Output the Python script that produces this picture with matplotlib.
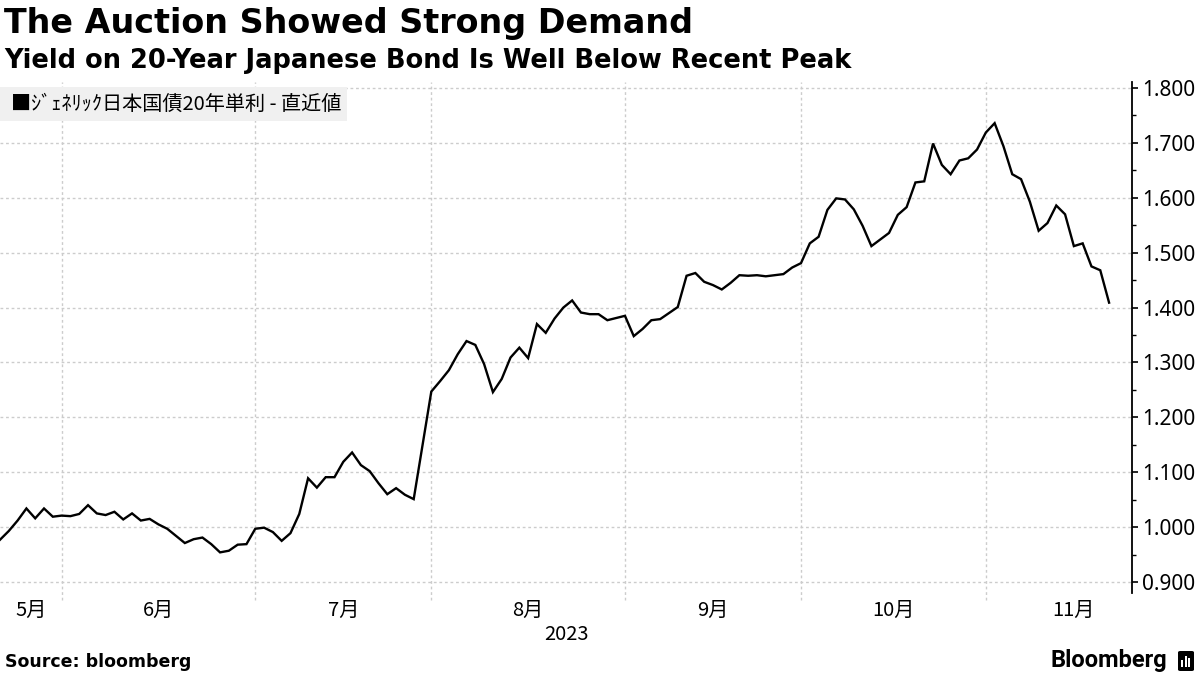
import matplotlib
matplotlib.use("Agg")
import matplotlib.pyplot as plt
from matplotlib.patches import Rectangle, FancyBboxPatch
from matplotlib.ticker import MultipleLocator, FuncFormatter

# ---------------------------------------------------------------------
# Data (generic 20-year JGB yield, one value per Japanese trading day)
# ---------------------------------------------------------------------

YIELDS = [
    0.977, 0.993, 1.012, 1.034, 1.016, 1.034, 1.019, 1.021, 1.020, 1.024,
    1.040, 1.025, 1.022, 1.028, 1.014, 1.025, 1.012, 1.015, 1.005, 0.997,
    0.984, 0.971, 0.978, 0.981, 0.969, 0.954, 0.957, 0.968, 0.969, 0.997,
    0.999, 0.991, 0.975, 0.989, 1.024, 1.089, 1.072, 1.091, 1.091, 1.119,
    1.136, 1.113, 1.102, 1.080, 1.060, 1.071, 1.059, 1.051, 1.149, 1.247,
    1.266, 1.286, 1.315, 1.339, 1.332, 1.297, 1.246, 1.270, 1.309, 1.327,
    1.308, 1.370, 1.354, 1.380, 1.400, 1.413, 1.391, 1.388, 1.388, 1.377,
    1.381, 1.385, 1.348, 1.361, 1.377, 1.379, 1.390, 1.401, 1.458, 1.463,
    1.447, 1.441, 1.433, 1.445, 1.459, 1.458, 1.459, 1.457, 1.459, 1.461,
    1.473, 1.481, 1.517, 1.529, 1.578, 1.599, 1.597, 1.579, 1.549, 1.512,
    1.524, 1.536, 1.569, 1.583, 1.628, 1.630, 1.699, 1.660, 1.643, 1.668,
    1.672, 1.688, 1.719, 1.736, 1.694, 1.643, 1.634, 1.593, 1.540, 1.554,
    1.586, 1.570, 1.512, 1.517, 1.475, 1.468, 1.409,
]

# trading-day index where each month begins (Jun .. Nov), plus Dec
MONTH_STARTS = [7, 29, 49, 71, 91, 112, 132]
MONTH_LABELS = ["5月", "6月", "7月", "8月", "9月", "10月", "11月"]
YEAR_LABEL = "2023"

SERIES_LABEL = "■ｼﾞｪﾈﾘｯｸ日本国債20年単利 - 直近値"
TITLE = "The Auction Showed Strong Demand"
SUBTITLE = "Yield on 20-Year Japanese Bond Is Well Below Recent Peak"
SOURCE = "Source: bloomberg"

CJK = ["Noto Sans CJK JP", "DejaVu Sans"]
GRID = "#cccccc"


def px(x, y):
    """pixel position (from top left) -> figure fraction"""
    return x / 1200, 1 - y / 675


def draw_logo(fig):
    fig.text(*px(1167, 661), "Bloomberg", ha="right", va="center",
             fontsize=17, fontweight="bold", family="Roboto")
    x0, y0 = px(1178, 671)
    w, h = 16 / 1200, 20 / 675
    fig.patches.append(FancyBboxPatch((x0, y0), w, h, boxstyle="round,pad=0,rounding_size=0.002",
                                      transform=fig.transFigure, fc="black", ec="none"))
    for i, bh in enumerate([0.35, 0.55, 0.45]):
        fig.patches.append(Rectangle((x0 + (3 + i * 3.7) / 1200, y0 + 4 / 675), 2 / 1200, bh * h,
                                     transform=fig.transFigure, fc="white", ec="none"))


def main():
    fig = plt.figure(figsize=(12, 6.75), dpi=100)
    ax = fig.add_axes([0, 0.1215, 0.9433, 0.757])

    x = list(range(len(YIELDS)))
    ax.plot(x, YIELDS, color="black", linewidth=1.7, solid_joinstyle="miter", zorder=3)

    ax.set_xlim(0, 128.6)
    ax.set_ylim(0.880, 1.811)

    # y axis on the right
    for side in ["left", "top", "bottom"]:
        ax.spines[side].set_visible(False)
    ax.spines["right"].set_linewidth(1.3)
    ax.yaxis.tick_right()
    ax.yaxis.set_major_locator(MultipleLocator(0.1))
    ax.yaxis.set_minor_locator(MultipleLocator(0.05))
    ax.yaxis.set_major_formatter(FuncFormatter(lambda v, p: f"{v:.3f}"))
    ax.tick_params(axis="y", which="major", length=4, width=1.2, pad=3, labelsize=15)
    ax.tick_params(axis="y", which="minor", length=3, width=1)
    for lbl in ax.get_yticklabels():
        lbl.set_family("Noto Sans")
    ax.grid(True, axis="y", which="major", color=GRID, linestyle=(0, (2, 2)), linewidth=1)

    # month gridlines and labels
    ax.set_xticks([])
    for m in MONTH_STARTS[:-1]:
        ax.axvline(m, ymin=-0.014, ymax=1, color=GRID, linestyle=(0, (2, 2)),
                   linewidth=1, clip_on=False, zorder=1)
    bounds = [0] + MONTH_STARTS
    for i, lab in enumerate(MONTH_LABELS):
        mid = (bounds[i] + bounds[i + 1]) / 2
        ax.text(mid, -0.035, lab, transform=ax.get_xaxis_transform(), ha="center",
                va="center", fontsize=14.5, family=CJK)
    ax.text(0.5, -0.082, YEAR_LABEL, transform=ax.transAxes, ha="center",
            va="center", fontsize=14.5, family=CJK)

    # legend chip
    lx, ly = px(0, 121)
    fig.patches.append(Rectangle((lx, ly), 347 / 1200, 34 / 675, transform=fig.transFigure,
                                 fc="#f0f0f0", ec="none", zorder=2))
    fig.text(*px(11, 104), SERIES_LABEL, ha="left", va="center", fontsize=14.5,
             family=CJK, zorder=3)

    # titles and footer
    fig.text(*px(4, 24), TITLE, ha="left", va="center", fontsize=24,
             fontweight="bold", family="DejaVu Sans")
    fig.text(*px(4, 61), SUBTITLE, ha="left", va="center", fontsize=18.5,
             fontweight="bold", family="DejaVu Sans")
    fig.text(*px(5, 662), SOURCE, ha="left", va="center", fontsize=12.5,
             fontweight="bold", family="DejaVu Sans")
    draw_logo(fig)

    fig.savefig("out.png", dpi=100)


if __name__ == "__main__":
    main()
